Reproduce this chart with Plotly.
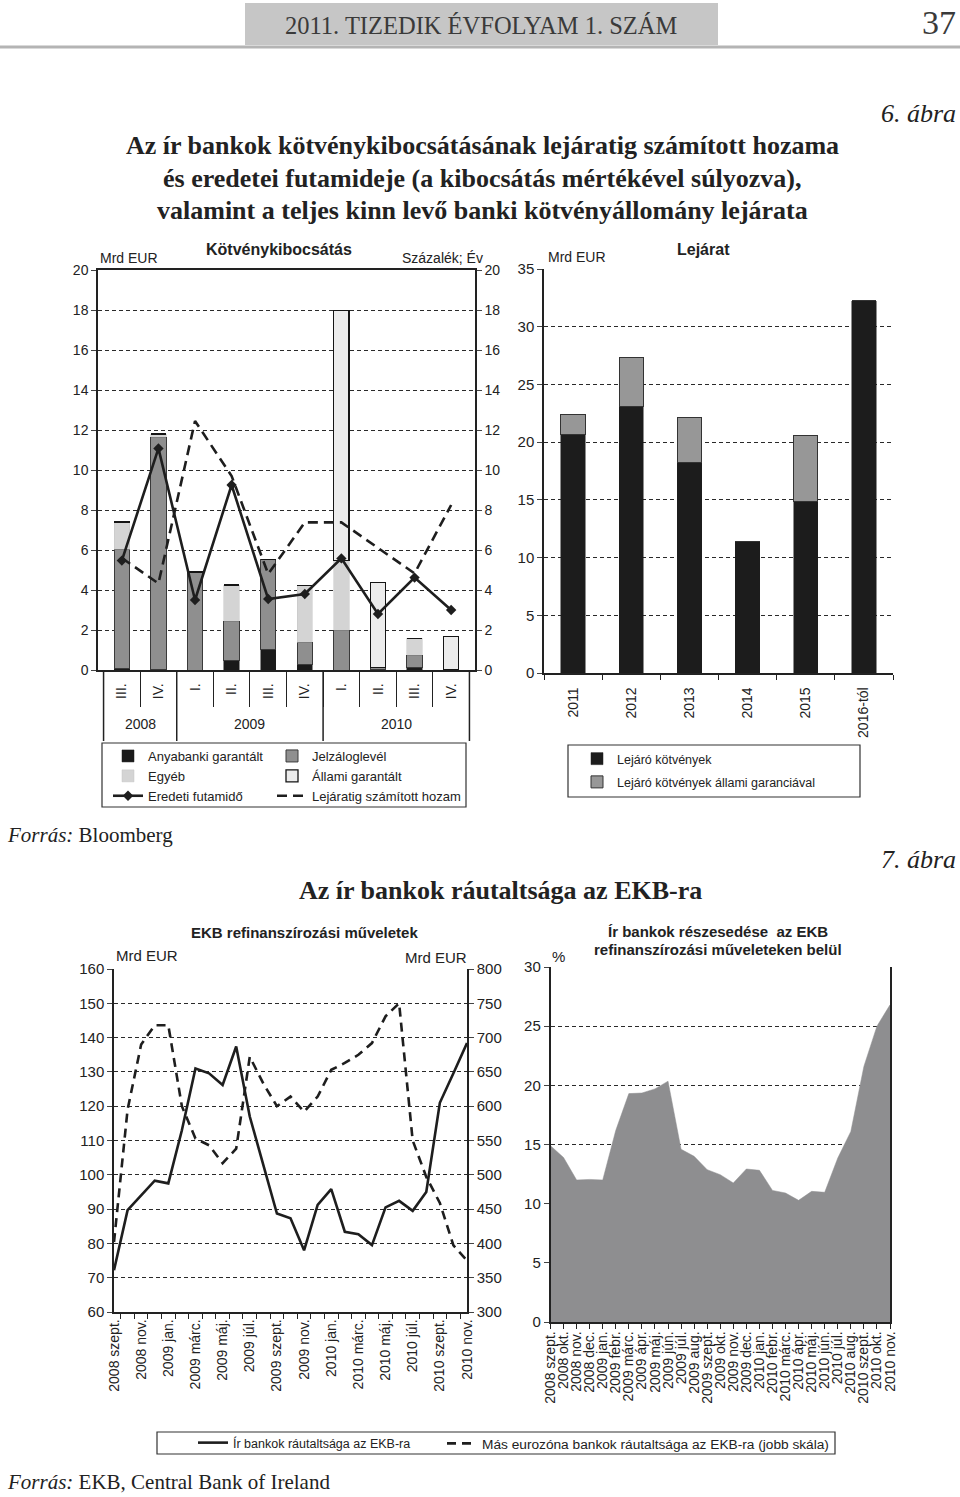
import plotly.graph_objects as go

W, H = 960, 1497


def fx(p):
    return p / W


def fy(p):
    return 1 - p / H


SANS = "Liberation Sans, Arial, sans-serif"
SERIF = "Liberation Serif, Times New Roman, serif"
INK = "#1e1e1e"

# ---------------- Chart 1: Kötvénykibocsátás ----------------
quarter_ids = ['2008 III', '2008 IV', '2009 I', '2009 II', '2009 III', '2009 IV',
               '2010 I', '2010 II', '2010 III', '2010 IV']
quarter_lbl = ['III.', 'IV.', 'I.', 'II.', 'III.', 'IV.', 'I.', 'II.', 'III.', 'IV.']
year_lbl = ['2008', '2009', '2010']
year_center = [0.5, 3.5, 7.5]
year_divider = [-0.5, 1.5, 5.5, 9.5]
anyabanki = [0.1, 0.05, 0.0, 0.5, 1.03, 0.3, 0.0, 0.05, 0.15, 0.0]
jelzalog = [5.95, 11.6, 4.9, 1.95, 4.5, 1.1, 2.0, 0.08, 0.6, 0.0]
egyeb = [1.35, 0.15, 0.0, 1.8, 0.0, 2.83, 3.47, 0.0, 0.83, 0.0]
allami = [0.0, 0.0, 0.0, 0.0, 0.0, 0.0, 12.5, 4.25, 0.0, 1.68]
eredeti_futamido = [5.47, 11.08, 3.5, 9.25, 3.55, 3.8, 5.58, 2.8, 4.62, 3.0]
lejaratig_hozam = [5.6, 4.33, 12.45, 9.7, 4.8, 7.38, 7.38, 6.1, 4.83, 8.25]

# ---------------- Chart 2: Lejárat ----------------
lejarat_evek = ['2011', '2012', '2013', '2014', '2015', '2016-tól']
lejaro_kotvenyek = [20.7, 23.1, 18.25, 11.35, 14.85, 32.25]
lejaro_allami = [1.7, 4.25, 3.9, 0.0, 5.75, 0.0]

# ---------------- Chart 3 & 4: monthly ----------------
honapok = ['2008 szept.', '2008 okt.', '2008 nov.', '2008 dec.', '2009 jan.', '2009 febr.',
           '2009 márc.', '2009 ápr.', '2009 máj.', '2009 jún.', '2009 júl.', '2009 aug.',
           '2009 szept.', '2009 okt.', '2009 nov.', '2009 dec.', '2010 jan.', '2010 febr.',
           '2010 márc.', '2010 ápr.', '2010 máj.', '2010 jún.', '2010 júl.', '2010 aug.',
           '2010 szept.', '2010 okt.', '2010 nov.']
ir_ekb = [72.2, 89.7, 94.0, 98.3, 97.5, 113.0, 131.0, 129.6, 126.2, 137.4, 117.0, 103.0,
          88.7, 87.3, 78.0, 91.2, 95.8, 83.4, 82.7, 79.5, 90.5, 92.4, 89.5, 95.0,
          121.0, 129.6, 138.4]
mas_euro_ekb = [402, 595, 690, 718, 718, 600, 553, 543, 517, 538, 672, 633, 600, 614,
                592, 614, 653, 663, 675, 692, 731, 750, 550, 497, 459, 397, 375]
ir_reszesedes = [14.9, 13.9, 12.0, 12.05, 12.0, 16.2, 19.3, 19.35, 19.7, 20.35, 14.6, 14.0,
                 12.87, 12.45, 11.75, 12.93, 12.82, 11.12, 10.9, 10.28, 11.04, 10.96, 13.86,
                 16.1, 21.6, 25.0, 26.8]
honap_ticktext_ket = [m if i % 2 == 0 else '' for i, m in enumerate(honapok)]

fig = go.Figure()

# chart 1 bars
fig.add_bar(x=quarter_ids, y=anyabanki, name='Anyabanki garantált',
            marker=dict(color='#1a1a1a', line=dict(color='#1a1a1a', width=0.5)),
            xaxis='x', yaxis='y', legend='legend')
fig.add_bar(x=quarter_ids, y=jelzalog, name='Jelzáloglevél',
            marker=dict(color='#8f8f8f', line=dict(color='#3a3a3a', width=1)),
            xaxis='x', yaxis='y', legend='legend2')
fig.add_bar(x=quarter_ids, y=egyeb, name='Egyéb',
            marker=dict(color='#d4d4d4', line=dict(color='#c4c4c4', width=0.5)),
            xaxis='x', yaxis='y', legend='legend')
fig.add_bar(x=quarter_ids, y=allami, name='Állami garantált',
            marker=dict(color='#ececec', line=dict(color='#151515', width=1.3)),
            xaxis='x', yaxis='y', legend='legend2')
fig.add_scatter(x=quarter_ids, y=eredeti_futamido, name='Eredeti futamidő', mode='lines+markers',
                line=dict(color=INK, width=2.6), marker=dict(symbol='diamond', size=8, color=INK),
                xaxis='x', yaxis='y2', legend='legend')
fig.add_scatter(x=quarter_ids, y=lejaratig_hozam, name='Lejáratig számított hozam', mode='lines',
                line=dict(color=INK, width=2.6, dash='10px,6px'),
                xaxis='x', yaxis='y2', legend='legend2')

# chart 2 bars
fig.add_bar(x=lejarat_evek, y=lejaro_kotvenyek, name='Lejáró kötvények',
            marker=dict(color='#1c1c1c', line=dict(color='#1c1c1c', width=0.5)),
            xaxis='x2', yaxis='y3', legend='legend3', legendgroup='a')
fig.add_bar(x=lejarat_evek, y=lejaro_allami, name='Lejáró kötvények állami garanciával',
            marker=dict(color='#979797', line=dict(color='#333', width=1)),
            xaxis='x2', yaxis='y3', legend='legend3', legendgroup='b')

# chart 3 lines
fig.add_scatter(x=honapok, y=ir_ekb, name='Ír bankok ráutaltsága az EKB-ra', mode='lines',
                line=dict(color=INK, width=2.6), xaxis='x3', yaxis='y4', legend='legend4')
fig.add_scatter(x=honapok, y=mas_euro_ekb, name='Más eurozóna bankok ráutaltsága az EKB-ra (jobb skála)',
                mode='lines', line=dict(color=INK, width=2.6, dash='9px,6px'),
                xaxis='x3', yaxis='y5', legend='legend5')

# chart 4 area
fig.add_scatter(x=honapok, y=ir_reszesedes, name='Ír bankok részesedése', mode='lines', fill='tozeroy',
                fillcolor='#8e8e90', line=dict(color='#8e8e90', width=0.5), showlegend=False,
                xaxis='x4', yaxis='y6')

grid = dict(showgrid=True, gridcolor='#2a2a2a', gridwidth=1, griddash='4px,3px')
axline = dict(showline=True, linecolor='#222', linewidth=1.5)
legbase = dict(xanchor='left', yanchor='top', bgcolor='rgba(0,0,0,0)', borderwidth=0)

fig.update_layout(
    width=W, height=H, margin=dict(l=0, r=0, t=0, b=0, pad=0, autoexpand=False),
    paper_bgcolor='white', plot_bgcolor='rgba(0,0,0,0)',
    barmode='stack', bargap=0.58,
    font=dict(family=SANS, color='#222', size=14),
    # chart 1
    xaxis=dict(domain=[fx(98), fx(475)], anchor='y', type='category', tickmode='array',
               tickvals=quarter_ids, ticktext=quarter_lbl, tickson='boundaries', ticks='outside',
               ticklen=35, tickcolor='#222', tickangle=-90, ticklabelstandoff=6,
               tickfont=dict(size=14), mirror=True, automargin=False, **axline),
    yaxis=dict(domain=[fy(670), fy(270)], anchor='x', range=[0, 20], dtick=2, ticks='outside',
               ticklen=5, tickfont=dict(size=14), zeroline=False, automargin=False, **grid, **axline),
    yaxis2=dict(overlaying='y', side='right', anchor='x', range=[0, 20], dtick=2, ticks='outside',
                ticklen=5, tickfont=dict(size=14), showgrid=False, zeroline=False, automargin=False,
                **axline),
    # chart 2
    xaxis2=dict(domain=[fx(544), fx(893)], anchor='y3', type='category', tickson='boundaries',
                ticks='outside', ticklen=5, tickcolor='#222', tickangle=-90, tickfont=dict(size=14),
                ticklabelstandoff=7, automargin=False, **axline),
    yaxis3=dict(domain=[fy(673), fy(269)], anchor='x2', range=[0, 35], dtick=5, ticks='outside',
                ticklen=5, tickfont=dict(size=15), zeroline=False, automargin=False, **grid, **axline),
    # chart 3
    xaxis3=dict(domain=[fx(114), fx(467)], anchor='y4', type='category', tickmode='array',
                tickvals=honapok, ticktext=honap_ticktext_ket, tickson='boundaries', ticks='outside',
                ticklen=5, tickcolor='#222', tickangle=-90, tickfont=dict(size=14),
                automargin=False, **axline),
    yaxis4=dict(domain=[fy(1312), fy(969)], anchor='x3', range=[60, 160], dtick=10, ticks='outside',
                ticklen=5, tickfont=dict(size=15), zeroline=False, automargin=False, **grid, **axline),
    yaxis5=dict(overlaying='y4', side='right', anchor='x3', range=[300, 800], dtick=50, ticks='outside',
                ticklen=5, tickfont=dict(size=15), showgrid=False, zeroline=False, automargin=False,
                **axline),
    # chart 4
    xaxis4=dict(domain=[fx(550.5), fx(890)], anchor='y6', type='category', range=[0, len(honapok) - 1],
                tickmode='array', tickvals=honapok, ticktext=honapok,
                ticks='outside', ticklen=5, tickcolor='#222', tickangle=-90, ticklabelstandoff=-3,
                tickfont=dict(size=14), automargin=False, **axline),
    yaxis6=dict(domain=[fy(1322), fy(967)], anchor='x4', range=[0, 30], dtick=5, ticks='outside',
                ticklen=5, tickfont=dict(size=15), zeroline=False, mirror=True, automargin=False,
                **grid, **axline),
    legend=dict(x=fx(108), y=fy(741), traceorder='normal', font=dict(size=13), tracegroupgap=0, **legbase),
    legend2=dict(x=fx(272), y=fy(741), traceorder='normal', font=dict(size=13), tracegroupgap=0, **legbase),
    legend3=dict(x=fx(577), y=fy(744), traceorder='grouped', font=dict(size=12.5), tracegroupgap=4, **legbase),
    legend4=dict(x=fx(193), y=fy(1428), orientation='h', font=dict(size=12.5), **legbase),
    legend5=dict(x=fx(442), y=fy(1428), orientation='h', font=dict(size=13.7), **legbase),
)

shapes = [
    dict(type='rect', xref='paper', yref='paper', x0=fx(245), x1=fx(718), y0=fy(45), y1=fy(3),
         fillcolor='#c6c6c6', line=dict(width=0), layer='below'),
    dict(type='line', xref='paper', yref='paper', x0=0, x1=1, y0=fy(47), y1=fy(47),
         line=dict(color='#b4b4b4', width=3)),
    dict(type='rect', xref='paper', yref='paper', x0=fx(102), x1=fx(466), y0=fy(807), y1=fy(743),
         line=dict(color='#333', width=1.2)),
    dict(type='rect', xref='paper', yref='paper', x0=fx(568), x1=fx(860), y0=fy(797), y1=fy(745),
         line=dict(color='#333', width=1.2)),
    dict(type='rect', xref='paper', yref='paper', x0=fx(157), x1=fx(835), y0=fy(1454), y1=fy(1432),
         line=dict(color='#333', width=1.2)),
]
for xv in year_divider:
    shapes.append(dict(type='line', xref='x', yref='paper', x0=xv, x1=xv, y0=fy(670), y1=fy(741),
                       line=dict(color='#222', width=1.5)))

ann = []


def add_text(x, y, text, size, family=SANS, xanchor='center', color='#222', bold=False):
    ann.append(dict(x=fx(x), y=fy(y), xref='paper', yref='paper', text=f'<b>{text}</b>' if bold else text,
                    showarrow=False, xanchor=xanchor, yanchor='middle',
                    font=dict(size=size, family=family, color=color)))


add_text(481, 25, '2011. TIZEDIK ÉVFOLYAM 1. SZÁM', 24.5, SERIF, color='#3a3a3a')
add_text(958, 22, '37', 34, SERIF, xanchor='right', color='#3a3a3a')
add_text(958, 113, '<i>6. ábra</i>', 26, SERIF, xanchor='right')
add_text(482, 145, 'Az ír bankok kötvénykibocsátásának lejáratig számított hozama', 26, SERIF, bold=True)
add_text(482, 178, 'és eredetei futamideje (a kibocsátás mértékével súlyozva),', 26, SERIF, bold=True)
add_text(482, 210, 'valamint a teljes kinn levő banki kötvényállomány lejárata', 26, SERIF, bold=True)
add_text(279, 249, 'Kötvénykibocsátás', 16, bold=True)
add_text(129, 258, 'Mrd EUR', 14)
add_text(442, 258, 'Százalék; Év', 14)
add_text(703, 250, 'Lejárat', 16, bold=True)
add_text(577, 257, 'Mrd EUR', 14)
add_text(5, 835, '<i>Forrás:</i> Bloomberg', 21, SERIF, xanchor='left')
add_text(500, 890, 'Az ír bankok ráutaltsága az EKB-ra', 26, SERIF, bold=True)
add_text(958, 859, '<i>7. ábra</i>', 26, SERIF, xanchor='right')
add_text(304, 933, 'EKB refinanszírozási műveletek', 15, bold=True)
add_text(147, 955, 'Mrd EUR', 15)
add_text(436, 957, 'Mrd EUR', 15)
add_text(718, 931, 'Ír bankok részesedése  az EKB', 15, bold=True)
add_text(718, 949, 'refinanszírozási műveleteken belül', 15, bold=True)
add_text(558, 956, '%', 15)
add_text(5, 1482, '<i>Forrás:</i> EKB, Central Bank of Ireland', 21, SERIF, xanchor='left')

for lbl, xc in zip(year_lbl, year_center):
    ann.append(dict(x=xc, y=fy(724), xref='x', yref='paper', text=lbl, showarrow=False,
                    xanchor='center', yanchor='middle', font=dict(size=14, family=SANS, color='#222')))

fig.update_layout(shapes=shapes, annotations=ann)
fig.write_html('out.html', config={'displayModeBar': False},
               post_script="document.body.style.margin='0px';")
